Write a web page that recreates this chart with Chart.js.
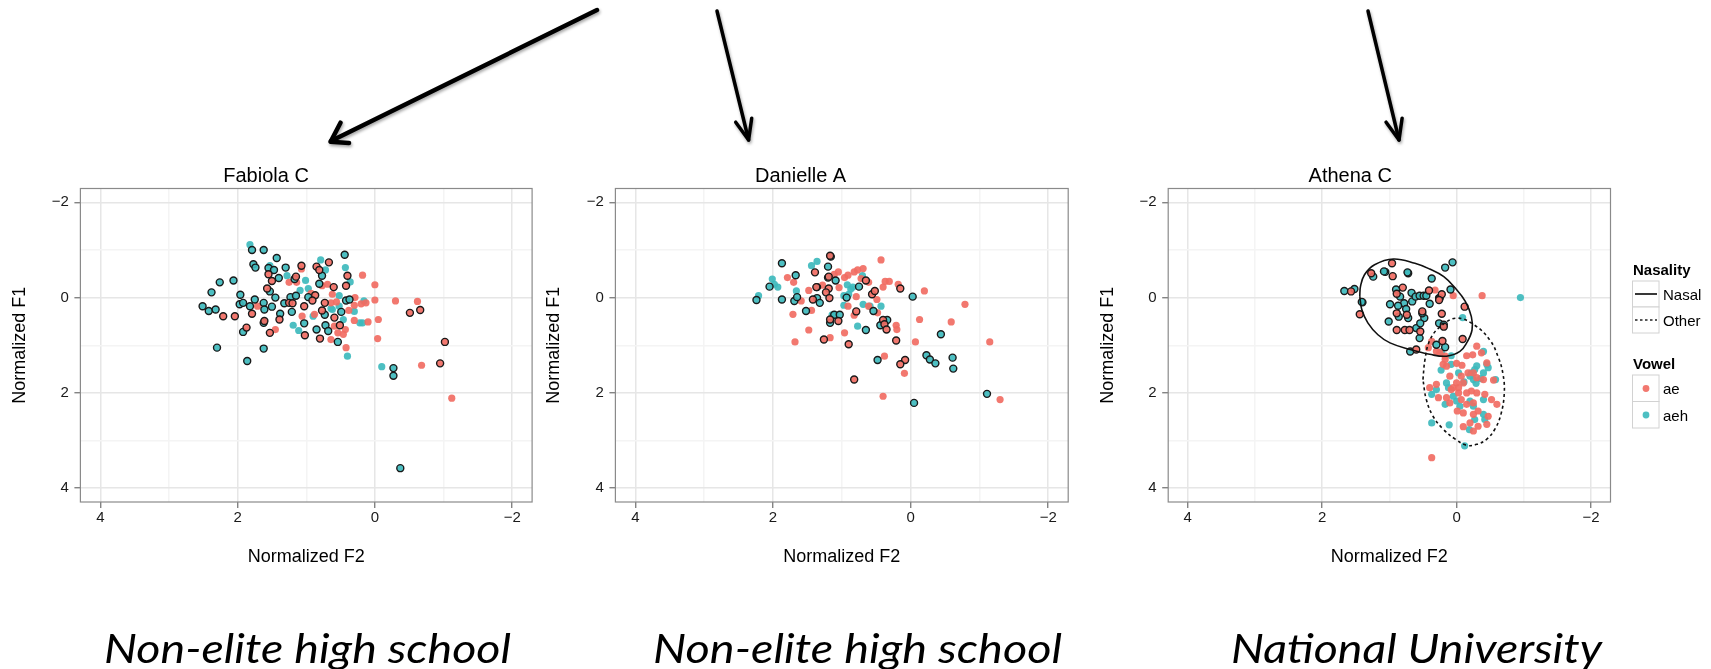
<!DOCTYPE html>
<html>
<head>
<meta charset="utf-8">
<script src="https://cdn.jsdelivr.net/npm/chart.js@4.4.1/dist/chart.umd.min.js"></script>
<style>
body{margin:0;width:1711px;height:669px;overflow:hidden;background:#fff;position:relative}
canvas{position:absolute;top:150px}
#panel1{left:0}
#panel2{left:533px}
#panel3{left:1090px}
svg{position:absolute;left:0;top:0;pointer-events:none}
</style>
</head>
<body>
<canvas id="panel1" width="560" height="430"></canvas>
<canvas id="panel2" width="567" height="430"></canvas>
<canvas id="panel3" width="621" height="430"></canvas>

<svg width="1711" height="669" font-family="'Liberation Sans', Arial, sans-serif">
  <!-- flechas -->
  <g stroke="#000" fill="none" stroke-linecap="round" stroke-linejoin="round" style="filter:drop-shadow(1px 2px 1.5px rgba(0,0,0,0.35))">
    <line x1="597" y1="10" x2="331" y2="141" stroke-width="4.5"/>
    <path d="M340.5,122.7 L330.6,141.7 L349,143" stroke-width="4.5"/>
    <line x1="717" y1="11" x2="748.6" y2="140" stroke-width="3.5"/>
    <path d="M735.7,122.2 L748.6,140 L751.7,118.2" stroke-width="3.5"/>
    <line x1="1368" y1="11" x2="1399" y2="140" stroke-width="3.5"/>
    <path d="M1386.1,122.2 L1399,140 L1402.1,118.2" stroke-width="3.5"/>
  </g>
  <!-- leyenda -->
  <text x="1633" y="275" font-size="15" font-weight="bold">Nasality</text>
  <rect x="1632.5" y="281" width="26.5" height="26" fill="#fff" stroke="#d2d2d2"/>
  <rect x="1632.5" y="307" width="26.5" height="26" fill="#fff" stroke="#d2d2d2"/>
  <line x1="1635" x2="1657" y1="294" y2="294" stroke="#222" stroke-width="1.8"/>
  <line x1="1635" x2="1657" y1="320" y2="320" stroke="#222" stroke-width="1.5" stroke-dasharray="2.5,2.5"/>
  <text x="1663" y="299.5" font-size="15">Nasal</text>
  <text x="1663" y="325.5" font-size="15">Other</text>
  <text x="1633" y="369" font-size="15" font-weight="bold">Vowel</text>
  <rect x="1632.5" y="375" width="26.5" height="26.5" fill="#fff" stroke="#d2d2d2"/>
  <rect x="1632.5" y="401.5" width="26.5" height="26.5" fill="#fff" stroke="#d2d2d2"/>
  <circle id="dotAe" cx="1646" cy="388.5" r="3.4"/>
  <circle id="dotAeh" cx="1646" cy="415" r="3.4"/>
  <text x="1663" y="394" font-size="15">ae</text>
  <text x="1663" y="420.5" font-size="15">aeh</text>
  <!-- textos inferiores -->
  <g font-family="Lato, 'Open Sans', sans-serif" font-style="italic" font-size="41.5" fill="#000">
    <text x="104" y="663" textLength="407" lengthAdjust="spacingAndGlyphs">Non-elite high school</text>
    <text x="653" y="663" textLength="409" lengthAdjust="spacingAndGlyphs">Non-elite high school</text>
    <text x="1231" y="663" textLength="371" lengthAdjust="spacingAndGlyphs">National University</text>
  </g>
</svg>

<script>
/** Limites comunes de los ejes */
const limiteMin = -2.29;
const limiteMax = 4.29;
const marcasEje = [-2, 0, 2, 4];

/** Fabiola C : [F2, F1] */
const fabiolaAeNasal = [[0.67,-0.74],[1.07,-0.67],[0.85,-0.65],[0.81,-0.58],[1.55,-0.49],[1.15,-0.44],[1.50,-0.35],[0.40,-0.46],[0.42,-0.25],[0.60,-0.22],[1.57,-0.19],[0.87,-0.05],[0.91,0.06],[1.25,0.11],[1.20,0.12],[1.03,0.18],[0.73,0.11],[0.77,0.27],[1.79,0.34],[2.21,0.39],[2.04,0.39],[1.39,0.46],[0.59,0.42],[0.51,0.58],[1.61,0.49],[1.87,0.63],[1.53,0.74],[1.02,0.79],[0.80,0.86],[-0.51,0.32],[-0.66,0.26],[-1.02,0.93],[-0.95,1.38]];
const fabiolaAeOther = [[0.18,-0.47],[0.00,-0.27],[0.00,0.05],[-0.30,0.07],[-0.62,0.08],[-0.05,0.46],[-0.04,0.86],[-0.68,1.42],[-1.12,2.11],[0.29,0.00],[0.30,0.16],[0.10,0.51],[0.30,0.48],[0.42,1.05],[1.45,0.67],[1.71,0.18],[1.14,-0.32],[1.25,-0.32],[0.62,-0.07],[0.64,0.11],[0.77,-0.25],[0.93,-0.09],[1.06,0.39],[0.88,0.35],[0.64,0.88],[0.54,0.74],[0.46,0.77],[0.43,0.67],[0.59,0.60],[0.38,0.27],[0.20,0.13],[0.13,0.11],[1.07,-0.60],[0.69,-0.28],[0.56,0.09]];
const fabiolaAehNasal = [[1.79,-1.00],[1.62,-1.00],[1.43,-0.83],[0.44,-0.90],[1.77,-0.70],[1.74,-0.63],[1.30,-0.63],[1.55,-0.62],[1.47,-0.58],[2.06,-0.36],[2.26,-0.32],[1.40,-0.41],[1.17,-0.39],[2.38,-0.11],[1.96,-0.06],[1.75,0.04],[1.97,0.14],[1.92,0.11],[1.53,-0.13],[1.45,0.00],[1.23,-0.01],[1.15,-0.04],[0.97,-0.01],[0.81,-0.29],[0.77,-0.46],[0.42,0.06],[0.37,0.04],[2.51,0.18],[2.42,0.28],[2.32,0.25],[1.82,0.18],[1.62,0.11],[1.61,0.25],[1.50,0.19],[1.38,0.34],[1.21,0.30],[1.32,0.12],[0.73,0.36],[0.49,0.30],[1.62,0.53],[1.92,0.72],[1.03,0.54],[0.85,0.67],[0.72,0.58],[0.68,0.70],[0.54,0.93],[2.30,1.05],[1.62,1.07],[1.86,1.33],[-0.27,1.48],[-0.27,1.64],[-0.37,3.58]];
const fabiolaAehOther = [[1.82,-1.11],[0.79,-0.79],[0.72,-0.58],[0.43,-0.63],[1.53,-0.67],[1.28,-0.46],[1.01,-0.36],[0.36,-0.33],[0.97,-0.19],[1.09,-0.15],[0.16,0.07],[0.30,0.29],[0.52,0.18],[0.62,0.25],[0.90,0.39],[1.19,0.58],[1.11,0.69],[0.46,0.46],[0.22,0.53],[0.18,0.53],[0.40,1.23],[-0.10,1.45],[0.52,-0.04],[0.64,0.23]];

/** Danielle A */
const danielleAeNasal = [[1.39,-0.53],[1.19,-0.44],[1.37,-0.22],[1.19,-0.19],[1.23,-0.11],[1.18,0.01],[1.17,-0.88],[1.42,0.04],[0.65,-0.36],[0.56,-0.07],[0.52,-0.14],[0.15,-0.19],[0.79,0.29],[1.05,0.49],[1.17,0.46],[0.40,0.47],[0.38,0.56],[0.35,0.67],[0.21,0.90],[1.26,0.88],[0.90,0.98],[0.08,1.31],[0.15,1.40],[0.82,1.72]];
const danielleAeOther = [[0.43,-0.79],[0.69,-0.61],[0.77,-0.58],[0.82,-0.54],[0.91,-0.47],[0.96,-0.42],[1.05,-0.54],[1.11,-0.49],[1.79,-0.42],[1.70,-0.32],[1.48,-0.15],[1.28,-0.26],[1.04,-0.21],[0.72,-0.40],[0.61,-0.32],[0.40,-0.22],[0.37,-0.34],[0.31,-0.34],[0.18,-0.28],[-0.20,-0.14],[-0.79,0.14],[-0.13,0.46],[-0.59,0.51],[-0.07,0.93],[-1.15,0.93],[0.09,1.59],[-1.30,2.14],[0.40,2.07],[0.38,1.23],[0.96,0.74],[1.48,0.68],[1.68,0.93],[1.71,0.35],[1.59,0.07],[1.44,0.27],[0.79,-0.02],[0.91,0.18],[0.49,0.04],[0.48,0.32],[0.61,0.18],[0.21,0.58],[0.20,0.67],[1.17,0.84],[0.82,0.37]];
const danielleAehNasal = [[2.24,0.05],[2.05,-0.23],[1.87,-0.72],[1.87,0.04],[1.67,-0.47],[1.69,0.07],[1.65,-0.01],[1.52,0.28],[1.36,-0.22],[1.36,0.01],[1.32,0.11],[1.20,-0.65],[1.16,-0.86],[1.20,-0.42],[1.09,-0.36],[1.11,0.36],[1.03,0.36],[1.17,0.53],[0.75,-0.23],[0.93,0.00],[0.65,0.68],[0.54,0.28],[0.44,0.58],[0.34,0.47],[-0.03,-0.02],[-0.44,0.77],[-0.23,1.21],[-0.28,1.30],[-0.36,1.38],[-0.61,1.26],[-0.62,1.49],[0.48,1.31],[-0.05,2.21],[-1.11,2.02]];
const danielleAehOther = [[2.21,-0.04],[2.01,-0.39],[1.93,-0.22],[1.98,-0.28],[1.66,-0.14],[1.44,-0.67],[1.36,-0.76],[0.92,-0.27],[0.84,-0.22],[0.87,-0.18],[0.97,-0.04],[0.97,0.16],[0.70,-0.46],[0.69,0.14],[0.77,0.60],[0.59,0.18],[0.43,0.18],[0.90,-0.07],[1.14,0.36]];

/** Athena C */
const athenaAeNasal = [[0.96,-0.72],[0.95,-0.45],[1.27,-0.51],[0.80,-0.21],[0.89,-0.08],[1.44,0.35],[0.89,0.33],[0.74,0.36],[0.51,0.29],[0.41,-0.15],[0.25,0.01],[0.22,-0.07],[0.22,0.34],[0.19,0.61],[-0.12,0.19],[-0.09,0.87],[0.21,0.91],[0.77,0.68],[0.70,0.68],[0.60,1.09],[0.89,0.68],[0.54,0.71],[0.26,0.05],[1.57,-0.13]];
const athenaAeOther = [[0.25,1.15],[0.17,1.30],[0.15,1.44],[0.00,1.38],[-0.08,1.42],[-0.15,1.22],[-0.24,1.20],[-0.30,1.02],[-0.37,1.16],[-0.45,1.37],[-0.55,1.73],[-0.60,2.24],[-0.52,2.14],[-0.42,2.03],[-0.40,1.72],[-0.30,1.68],[-0.25,1.58],[-0.17,1.58],[-0.07,1.65],[0.00,1.79],[0.05,1.89],[-0.03,1.89],[-0.10,1.79],[0.10,1.65],[0.20,1.40],[0.30,1.82],[0.40,1.89],[0.27,2.10],[0.10,2.21],[-0.07,2.14],[-0.15,2.24],[-0.25,2.21],[-0.30,2.00],[-0.22,1.96],[-0.15,2.00],[-0.03,2.00],[0.08,1.93],[0.15,2.10],[-0.32,2.38],[-0.25,2.45],[-0.47,2.49],[-0.45,2.66],[-0.32,2.70],[-0.25,2.80],[-0.10,2.71],[-0.01,2.38],[0.37,3.36],[-0.10,2.42],[-0.20,2.63],[0.05,-0.04],[-0.38,-0.04],[0.32,-0.16],[0.37,0.92],[0.17,1.23],[0.42,1.05],[0.30,1.13]];
const athenaAehNasal = [[1.67,-0.14],[1.52,-0.18],[1.40,0.10],[1.24,-0.44],[1.06,-0.54],[0.72,-0.51],[0.37,-0.40],[0.17,-0.63],[0.06,-0.74],[0.09,-0.17],[1.01,0.50],[0.99,0.14],[0.90,-0.17],[0.84,-0.02],[0.78,0.12],[0.75,0.24],[0.67,-0.10],[0.66,0.08],[0.61,-0.02],[0.55,-0.04],[0.49,-0.04],[0.45,-0.04],[0.40,0.13],[0.48,0.43],[0.51,0.33],[0.72,0.43],[0.86,0.40],[0.60,0.64],[0.55,0.85],[0.69,1.13],[0.26,0.54],[0.19,0.57],[0.30,0.99],[0.17,1.04],[0.26,0.01],[0.87,0.17],[0.54,0.54],[1.41,0.09],[1.08,-0.55],[0.73,-0.53]];
const athenaAehOther = [[-0.40,1.13],[-0.45,1.40],[-0.30,1.43],[-0.27,1.51],[-0.22,1.58],[-0.20,1.65],[-0.25,1.72],[-0.29,1.80],[-0.36,1.70],[-0.40,1.58],[-0.11,1.77],[-0.03,1.58],[0.08,1.40],[0.23,1.52],[0.15,1.79],[0.12,1.89],[0.30,1.93],[0.37,2.03],[0.17,2.24],[0.00,2.17],[-0.05,2.28],[-0.20,2.17],[-0.25,2.28],[-0.40,2.14],[0.05,2.07],[0.37,2.63],[0.11,2.67],[-0.19,2.77],[-0.27,2.56],[-0.40,2.45],[-0.42,2.56],[-0.12,3.11],[-0.58,1.72],[-0.47,1.47],[-0.09,0.42],[-0.95,0.00],[0.22,1.13],[0.08,1.22]];

/** Contornos de las elipses */
const athenaElipseNasal = [[1.44,-0.03],[1.43,-0.23],[1.37,-0.48],[1.22,-0.69],[0.94,-0.81],[0.62,-0.72],[0.40,-0.60],[0.19,-0.44],[0.02,-0.20],[-0.13,0.08],[-0.22,0.40],[-0.23,0.68],[-0.15,0.95],[-0.05,1.13],[0.15,1.23],[0.40,1.19],[0.69,1.09],[0.99,0.95],[1.17,0.78],[1.32,0.53],[1.41,0.25],[1.44,-0.03]];
const athenaElipseOther = [[0.50,1.72],[0.47,1.30],[0.40,0.90],[0.25,0.62],[0.00,0.43],[-0.27,0.58],[-0.50,0.90],[-0.62,1.25],[-0.69,1.60],[-0.71,2.00],[-0.66,2.45],[-0.57,2.76],[-0.45,2.97],[-0.30,3.08],[-0.15,3.10],[0.02,2.97],[0.20,2.76],[0.35,2.49],[0.45,2.14],[0.50,1.72]];

/** Colores */
const colorAe = 'rgba(241,108,99,0.92)';
const colorAeh = 'rgba(62,186,189,0.92)';
document.getElementById('dotAe').setAttribute('fill', colorAe);
document.getElementById('dotAeh').setAttribute('fill', colorAeh);

Chart.defaults.font.family = '"Liberation Sans", Arial, sans-serif';
Chart.defaults.color = '#000';

function puntos(lista) {
    return lista.map(p => ({ x: p[0], y: p[1] }));
}

function serie(lista, color, nasal) {
    return {
        data: puntos(lista),
        backgroundColor: color,
        borderColor: nasal ? '#1a1a1a' : color,
        borderWidth: nasal ? 1.4 : 0,
        pointRadius: nasal ? 3.5 : 3.6,
        pointHoverRadius: 0,
        order: nasal ? 1 : 2
    };
}

function elipse(lista, guiones) {
    return {
        data: puntos(lista),
        showLine: true,
        tension: 0.4,
        borderColor: '#111',
        borderWidth: 1.6,
        borderDash: guiones,
        pointRadius: 0,
        pointHoverRadius: 0,
        fill: false,
        order: 0
    };
}

function etiqueta(valor) {
    if (!marcasEje.includes(valor)) return '';
    return valor < 0 ? '\u2212' + Math.abs(valor) : String(valor);
}

const rejilla = {
    color: c => (c.tick && marcasEje.includes(c.tick.value)) ? '#e6e6e6' : '#f4f4f4',
    lineWidth: 1.5,
    tickLength: 6,
    tickWidth: 1.2,
    tickColor: c => (c.tick && marcasEje.includes(c.tick.value)) ? '#6e6e6e' : 'rgba(0,0,0,0)'
};

/** Borde gris del panel */
const bordePanel = {
    id: 'bordePanel',
    afterDatasetsDraw(chart) {
        const a = chart.chartArea;
        const ctx = chart.ctx;
        ctx.save();
        ctx.strokeStyle = '#8a8a8a';
        ctx.lineWidth = 1.2;
        ctx.strokeRect(a.left, a.top, a.right - a.left, a.bottom - a.top);
        ctx.restore();
    }
};

function marcas(relleno) {
    return {
        stepSize: 1,
        includeBounds: false,
        autoSkip: false,
        maxRotation: 0,
        padding: relleno,
        color: '#1a1a1a',
        font: { size: 15 },
        callback: etiqueta
    };
}

function crearPanel(id, nombre, conjuntos, anchoY, padTituloY, padDerecha) {
    const ctx = document.getElementById(id);
    new Chart(ctx, {
        type: 'scatter',
        data: { datasets: conjuntos },
        options: {
            responsive: false,
            animation: false,
            events: [],
            layout: { padding: { left: 0, top: 0, right: padDerecha, bottom: 0 } },
            plugins: {
                legend: { display: false },
                tooltip: { enabled: false },
                title: {
                    display: true, text: nombre, color: '#000',
                    font: { size: 20, weight: 'normal' },
                    padding: { top: 14.5, bottom: 0 }
                }
            },
            scales: {
                x: {
                    type: 'linear', reverse: true, min: limiteMin, max: limiteMax,
                    afterFit: function (escala) { escala.height = 78; },
                    title: { display: true, text: 'Normalized F2', color: '#000', font: { size: 18 }, padding: { top: 0, bottom: 12 } },
                    ticks: marcas(1),
                    grid: rejilla,
                    border: { display: false }
                },
                y: {
                    type: 'linear', reverse: true, min: limiteMin, max: limiteMax,
                    afterFit: function (escala) { escala.width = anchoY; },
                    title: { display: true, text: 'Normalized F1', color: '#000', font: { size: 18 }, padding: { top: padTituloY, bottom: 0 } },
                    ticks: marcas(5.5),
                    grid: rejilla,
                    border: { display: false }
                }
            }
        },
        plugins: [bordePanel]
    });
}

crearPanel('panel1', 'Fabiola C', [
    serie(fabiolaAeNasal, colorAe, true),
    serie(fabiolaAehNasal, colorAeh, true),
    serie(fabiolaAeOther, colorAe, false),
    serie(fabiolaAehOther, colorAeh, false)
], 80.4, 9.4, 27.9);

crearPanel('panel2', 'Danielle A', [
    serie(danielleAeNasal, colorAe, true),
    serie(danielleAehNasal, colorAeh, true),
    serie(danielleAeOther, colorAe, false),
    serie(danielleAehOther, colorAeh, false)
], 82.4, 9.8, 31.8);

crearPanel('panel3', 'Athena C', [
    elipse(athenaElipseNasal, []),
    elipse(athenaElipseOther, [3, 3]),
    serie(athenaAeNasal, colorAe, true),
    serie(athenaAehNasal, colorAeh, true),
    serie(athenaAeOther, colorAe, false),
    serie(athenaAehOther, colorAeh, false)
], 78.2, 7.0, 100.5);
</script>
</body>
</html>
